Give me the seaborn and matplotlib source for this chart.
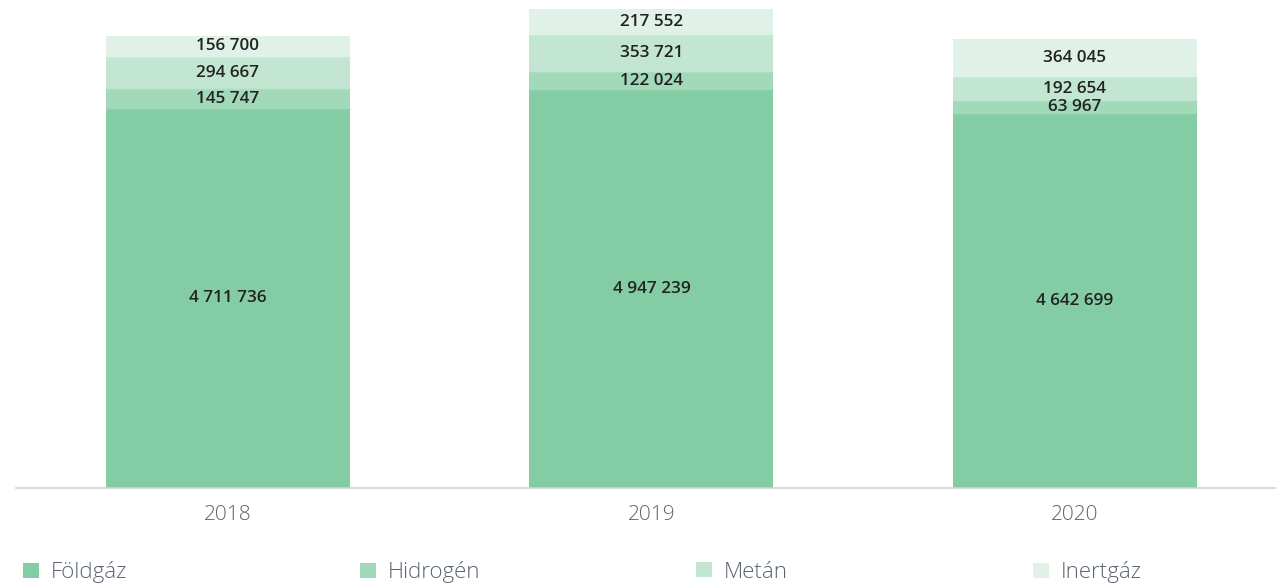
import numpy as np
import pandas as pd
import seaborn as sns
import matplotlib.pyplot as plt
from matplotlib.patches import Patch

# Adatok
years = ["2018", "2019", "2020"]
series = ["Földgáz", "Hidrogén", "Metán", "Inertgáz"]
foldgaz = [4711736, 4947239, 4642699]
hidrogen = [145747, 122024, 63967]
metan = [294667, 353721, 192654]
inertgaz = [156700, 217552, 364045]
colors = ["#84cda4", "#a2d9b9", "#c2e6d2", "#e0f2e8"]
edge_colors = ["#7cc99d", "#8fd1ab", "#acdcc1", "#cce9d9"]

# a kis szegmensek minimális látható többletmagassága (mint az eredetin)
seg_pad = 103000

sns.set_style("white")
plt.rcParams["font.family"] = ["Open Sans", "DejaVu Sans"]

def fmt(v):
    return f"{v:,}".replace(",", " ")

def main():
    values = np.array([foldgaz, hidrogen, metan, inertgaz])
    shown = values.astype(float)
    shown[1:] += seg_pad
    cum = shown.cumsum(axis=0)

    fig = plt.figure(figsize=(12.76, 5.85), dpi=100)
    ax = fig.add_axes([16 / 1276, 1 - 488 / 585, 1 - 16 / 1276, 488 / 585])

    # Halmozott oszlopok: a legnagyobb összeg kerül alulra rajzolásra
    for i in range(len(series) - 1, -1, -1):
        df = pd.DataFrame({"ev": years, "ertek": cum[i]})
        sns.barplot(data=df, x="ev", y="ertek", color=colors[i], width=0.576,
                    saturation=1, ax=ax, linewidth=0)
        # vékony elválasztó vonal a szegmens tetején
        if i < len(series) - 1:
            for j in range(len(years)):
                ax.plot([j - 0.288, j + 0.288], [cum[i][j], cum[i][j]],
                        color=edge_colors[i + 1], lw=1, solid_capstyle="butt")

    # Értékcímkék a szegmensek közepén
    for i in range(len(series)):
        for j in range(len(years)):
            bottom = cum[i][j] - shown[i][j]
            ax.text(j, bottom + shown[i][j] / 2, fmt(values[i][j]),
                    ha="center", va="center", fontsize=12.3, color="#222222",
                    fontweight="semibold")

    ax.set_xlim(-0.5006, 2.475)
    ax.set_ylim(0, 6061000)
    ax.set_xlabel("")
    ax.set_ylabel("")
    ax.set_yticks([])
    for s in ["top", "right", "left"]:
        ax.spines[s].set_visible(False)
    ax.spines["bottom"].set_color("#cfd3d8")
    ax.spines["bottom"].set_linewidth(1.2)
    ax.tick_params(axis="x", length=0, pad=12, labelsize=15, labelcolor="#5a6470")
    for t in ax.get_xticklabels():
        t.set_fontweight("light")

    # Jelmagyarázat
    leg_x = [23, 360, 696, 1033]
    for i, name in enumerate(series):
        leg = fig.legend(handles=[Patch(facecolor=colors[i], edgecolor="none")],
                         labels=[name], loc="center left",
                         bbox_to_anchor=(leg_x[i] / 1276, 1 - 572 / 585),
                         frameon=False, fontsize=16, handlelength=0.72,
                         handleheight=0.68, handletextpad=0.52, borderpad=0,
                         borderaxespad=0)
        for t in leg.get_texts():
            t.set_color("#5a6470")
            t.set_fontweight("light")

    fig.savefig("out.png", dpi=100)

main()
